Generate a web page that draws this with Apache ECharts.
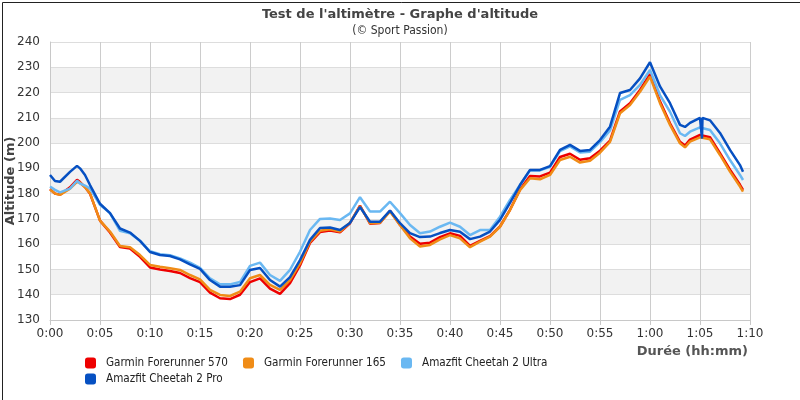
<!DOCTYPE html>
<html>
<head>
<meta charset="utf-8">
<script src="https://cdn.jsdelivr.net/npm/echarts/dist/echarts.min.js"></script>
<style>
  html, body { margin: 0; padding: 0; background: #fff; }
  #chart { width: 800px; height: 400px; }
</style>
</head>
<body>
<div id="chart"></div>
<script>
// minutes since start
const minutes = [0, 0.5, 1, 2, 2.7, 3, 3.5, 4, 5, 6, 7, 8, 9, 10, 11, 12, 13, 14, 15, 16, 17, 18, 19, 20,
  21, 22, 23, 24, 25, 26, 27, 28, 29, 30, 31, 32, 33, 34, 35, 36, 37, 38, 39, 40, 41, 42, 43, 44, 45, 46,
  47, 48, 49, 50, 51, 52, 53, 54, 55, 56, 57, 58, 59, 60, 61, 62, 63, 63.5, 64, 65, 65.2, 65.25, 66, 67,
  68, 69, 69.3];

const garmin570 = [181.8, 180, 179.6, 182.5, 185.5, 184.6, 182.6, 180, 169.3, 164.6, 158.9, 158.3, 155, 150.8,
  150, 149.4, 148.6, 146.6, 145, 140.8, 138.6, 138.3, 140, 145, 146.5, 142.4, 140.3, 144.6, 151.6, 160.5,
  164.8, 165.4, 164.7, 168.3, 175.3, 168.1, 168.4, 173.2, 167.6, 163, 160.2, 160.6, 162.8, 164.3, 163.3,
  159.3, 161.3, 163.2, 167, 173.6, 181.6, 187, 186.8, 188.3, 194.5, 195.8, 193.4, 194, 197, 201, 212.5,
  215.8, 221, 227.3, 216.5, 207.8, 200.5, 199, 201.4, 203.2, 203.1, 203, 202.3, 196, 189.5, 183.5, 181.5];

const garmin165 = [181.6, 180, 179.5, 182, 184.7, 184.3, 182.5, 180.1, 169.3, 165, 159.3, 158.8, 155.7, 151.8,
  151.1, 150.5, 149.8, 147.8, 146.1, 141.9, 139.9, 139.5, 141.2, 146.5, 147.8, 143.9, 141.9, 145.8, 152.4,
  161, 165.3, 165.9, 165, 168.5, 175.1, 168.3, 168.5, 172.9, 167.6, 162.3, 159.1, 159.7, 161.9, 163.6,
  162.3, 158.8, 161, 163, 166.9, 173.5, 181.4, 186.1, 185.7, 187.4, 193.3, 194.6, 192.3, 193, 196.2, 200.5,
  211.8, 215.1, 220.3, 226.3, 215.8, 207.2, 199.9, 198.3, 200.6, 202.3, 202.2, 202.1, 201.5, 195.3, 188.7,
  182.8, 180.8];

const cheetahUltra = [182.8, 181.5, 180.5, 182, 185.1, 184, 183.2, 182, 175.6, 172.3, 165.3, 164.3, 161.4,
  157.2, 156, 155.6, 154.4, 152.7, 150.6, 146.5, 144.1, 144.1, 145, 151.4, 152.7, 147.8, 145.5, 149.8, 157,
  165.6, 170, 170.2, 169.6, 172.2, 178.6, 172.9, 172.9, 176.8, 172.3, 167.6, 164.3, 165, 166.9, 168.5,
  166.9, 163.6, 165.6, 165.6, 170.9, 177.5, 183.4, 189.2, 189.2, 190.6, 196.8, 198.7, 196.3, 196.6, 200.4,
  205, 217.1, 219, 223, 228.9, 219, 212.4, 203.9, 202.8, 204.5, 206.2, 206, 205.9, 205.2, 199.9, 193.3,
  187.4, 185.4];

const cheetahPro = [187.4, 185, 184.7, 188.6, 191, 190, 187.4, 183.4, 176, 172.3, 166.2, 164.6, 161.3,
  156.9, 155.7, 155.3, 154, 152, 150.2, 145.8, 143.2, 143.2, 143.8, 149.8, 150.6, 145.8, 143.2, 147, 153.7,
  161.7, 166.4, 166.6, 165.6, 168.4, 174.7, 168.9, 168.9, 173.3, 168.3, 164.4, 162.8, 163, 164.4, 165.6,
  164.9, 162, 163, 165, 169.6, 176.3, 183.4, 189.4, 189.4, 190.9, 197.3, 199.3, 196.9, 197.3, 201.2, 206.5,
  219.8, 221, 225.6, 232, 222.4, 215.8, 207.2, 206.4, 208, 210, 201.8, 210, 209, 204, 197.3, 191.3, 188.7];

const names = ['Garmin Forerunner 570', 'Garmin Forerunner 165', 'Amazfit Cheetah 2 Ultra', 'Amazfit Cheetah 2 Pro'];
const colors = ['#ee0000', '#f08c16', '#6ab8f2', '#0650c2'];
const values = [garmin570, garmin165, cheetahUltra, cheetahPro];

const fmtTime = (v) => Math.floor(v / 60) + ':' + String(v % 60).padStart(2, '0');

const chart = echarts.init(document.getElementById('chart'));

const legendBase = {
  orient: 'horizontal',
  left: 85,
  padding: 0,
  itemWidth: 11,
  itemHeight: 11,
  itemGap: 15,
  icon: 'roundRect',
  textStyle: { fontFamily: 'DejaVu Sans Condensed', fontSize: 11.6, color: '#222', padding: [0, 0, 0, 5] }
};

chart.setOption({
  animation: false,
  textStyle: { fontFamily: 'DejaVu Sans' },
  color: colors,
  title: [
    {
      text: "Test de l'altimètre - Graphe d'altitude",
      left: 'center',
      top: 3,
      textStyle: { fontFamily: 'DejaVu Sans', fontSize: 13, fontWeight: 'bold', color: '#444' }
    },
    {
      text: '(© Sport Passion)',
      left: 'center',
      top: 20,
      textStyle: { fontFamily: 'DejaVu Sans Condensed', fontSize: 12, fontWeight: 'normal', color: '#333' }
    }
  ],
  legend: [
    Object.assign({ top: 357, data: names.slice(0, 3) }, legendBase),
    Object.assign({ top: 373, data: names.slice(3) }, legendBase)
  ],
  grid: { left: 50, right: 50, top: 42, bottom: 80, containLabel: false, outerBoundsMode: 'none' },
  xAxis: {
    type: 'value',
    min: 0,
    max: 70,
    interval: 5,
    axisLine: { lineStyle: { color: '#c8c8c8' } },
    axisTick: { show: true, length: 5, lineStyle: { color: '#c8c8c8' } },
    axisLabel: { formatter: fmtTime, color: '#333', fontSize: 12, margin: 8 },
    splitLine: { show: true, lineStyle: { color: '#cccccc' } }
  },
  yAxis: {
    type: 'value',
    min: 130,
    max: 240,
    interval: 10,
    name: 'Altitude (m)',
    nameLocation: 'middle',
    nameGap: 33,
    nameMoveOverlap: false,
    nameTextStyle: { fontSize: 13, fontWeight: 'bold', color: '#444' },
    axisLine: { show: true, lineStyle: { color: '#c8c8c8' } },
    axisTick: { show: false },
    axisLabel: { color: '#333', fontSize: 12, margin: 10 },
    splitLine: { show: true, lineStyle: { color: '#dddddd' } },
    splitArea: { show: true, areaStyle: { color: ['#ffffff', '#f2f2f2'] } }
  },
  graphic: [
    {
      type: 'text',
      right: 52,
      top: 345,
      style: { text: 'Durée (hh:mm)', font: 'bold 13px "DejaVu Sans"', fill: '#555' }
    },
    {
      type: 'rect',
      left: 0,
      top: 0,
      shape: { x: 0.5, y: 0.5, width: 799, height: 399 },
      style: { fill: 'none', stroke: '#222', lineWidth: 1 },
      silent: true
    }
  ],
  series: names.map((name, i) => ({
    name,
    type: 'line',
    showSymbol: false,
    lineStyle: { width: 2.5, color: colors[i] },
    itemStyle: { color: colors[i] },
    data: minutes.map((m, j) => [m, values[i][j]])
  }))
});
</script>
</body>
</html>
